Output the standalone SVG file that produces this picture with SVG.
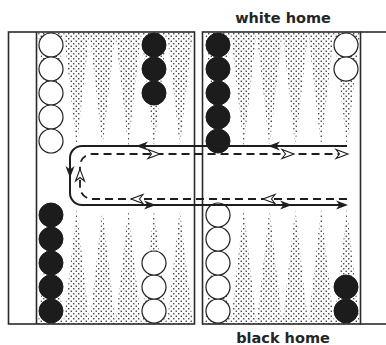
<svg xmlns="http://www.w3.org/2000/svg" xmlns:xlink="http://www.w3.org/1999/xlink" width="386" height="345" viewBox="0 0 386 345">
<style>
.frame{fill:none;stroke:#2a2a2a;stroke-width:1.6}
.pt{fill:url(#dots)}
.w{fill:#fff;stroke:#222;stroke-width:1.2}
.b{fill:#1c1c1c;stroke:#1c1c1c;stroke-width:1}
.solid{fill:none;stroke:#1e1e1e;stroke-width:2}
.dash{fill:none;stroke:#1e1e1e;stroke-width:1.8;stroke-dasharray:8 5}
.lbl{font-family:"DejaVu Sans",sans-serif;font-weight:bold;font-size:14.5px;fill:#252525;text-anchor:middle}
</style>
<defs>
<pattern id="dots" patternUnits="userSpaceOnUse" width="5" height="5">
<rect x="0.6" y="0.6" width="1.3" height="1.3" fill="#222"/>
<rect x="3.1" y="3.1" width="1.3" height="1.3" fill="#222"/>
</pattern>
<path id="ahs" d="M0,0 L-12,-4.5 L-8.5,0 L-12,4.5 Z" fill="#1e1e1e"/>
<path id="aho" d="M0,0 L-12,-4.5 L-8.5,0 L-12,4.5 Z" fill="#fff" stroke="#1e1e1e" stroke-width="1.1" stroke-linejoin="miter"/>
</defs>
<g id="points">
<polygon class="pt" points="38,32 63.8,32 50.9,147"/>
<polygon class="pt" points="63.8,32 89.6,32 76.7,147"/>
<polygon class="pt" points="89.6,32 115.4,32 102.5,147"/>
<polygon class="pt" points="115.4,32 141.2,32 128.3,147"/>
<polygon class="pt" points="141.2,32 167,32 154.1,147"/>
<polygon class="pt" points="167,32 192.8,32 179.9,147"/>
<polygon class="pt" points="205,32 230.8,32 217.9,147"/>
<polygon class="pt" points="230.8,32 256.6,32 243.7,147"/>
<polygon class="pt" points="256.6,32 282.4,32 269.5,147"/>
<polygon class="pt" points="282.4,32 308.2,32 295.3,147"/>
<polygon class="pt" points="308.2,32 334,32 321.1,147"/>
<polygon class="pt" points="334,32 359.8,32 346.9,147"/>
<polygon class="pt" points="38,324 63.8,324 50.9,209"/>
<polygon class="pt" points="63.8,324 89.6,324 76.7,209"/>
<polygon class="pt" points="89.6,324 115.4,324 102.5,209"/>
<polygon class="pt" points="115.4,324 141.2,324 128.3,209"/>
<polygon class="pt" points="141.2,324 167,324 154.1,209"/>
<polygon class="pt" points="167,324 192.8,324 179.9,209"/>
<polygon class="pt" points="205,324 230.8,324 217.9,209"/>
<polygon class="pt" points="230.8,324 256.6,324 243.7,209"/>
<polygon class="pt" points="256.6,324 282.4,324 269.5,209"/>
<polygon class="pt" points="282.4,324 308.2,324 295.3,209"/>
<polygon class="pt" points="308.2,324 334,324 321.1,209"/>
<polygon class="pt" points="334,324 359.8,324 346.9,209"/>
</g>
<g id="board">
<rect class="frame" x="8.5" y="32" width="186" height="292"/>
<line class="frame" x1="36.5" y1="32" x2="36.5" y2="324"/>
<rect class="frame" x="202.5" y="32" width="158" height="292"/>
<line class="frame" x1="360.5" y1="32" x2="386" y2="32"/>
<line class="frame" x1="360.5" y1="324" x2="386" y2="324"/>
</g>
<g id="checkers">
<g id="top-left-white">
<circle class="w" cx="51" cy="45" r="12"/><circle class="w" cx="51" cy="69" r="12"/><circle class="w" cx="51" cy="93" r="12"/><circle class="w" cx="51" cy="117" r="12"/><circle class="w" cx="51" cy="141" r="12"/>
</g>
<g id="top-left-black">
<circle class="b" cx="154" cy="45" r="12"/><circle class="b" cx="154" cy="69" r="12"/><circle class="b" cx="154" cy="93" r="12"/>
</g>
<g id="top-right-black">
<circle class="b" cx="218" cy="45" r="12"/><circle class="b" cx="218" cy="69" r="12"/><circle class="b" cx="218" cy="93" r="12"/><circle class="b" cx="218" cy="117" r="12"/><circle class="b" cx="218" cy="141" r="12"/>
</g>
<g id="top-right-white">
<circle class="w" cx="346" cy="45" r="12"/><circle class="w" cx="346" cy="69" r="12"/>
</g>
<g id="bottom-left-black">
<circle class="b" cx="51" cy="311" r="12"/><circle class="b" cx="51" cy="287" r="12"/><circle class="b" cx="51" cy="263" r="12"/><circle class="b" cx="51" cy="239" r="12"/><circle class="b" cx="51" cy="215" r="12"/>
</g>
<g id="bottom-left-white">
<circle class="w" cx="154" cy="311" r="12"/><circle class="w" cx="154" cy="287" r="12"/><circle class="w" cx="154" cy="263" r="12"/>
</g>
<g id="bottom-right-white">
<circle class="w" cx="218" cy="311" r="12"/><circle class="w" cx="218" cy="287" r="12"/><circle class="w" cx="218" cy="263" r="12"/><circle class="w" cx="218" cy="239" r="12"/><circle class="w" cx="218" cy="215" r="12"/>
</g>
<g id="bottom-right-black">
<circle class="b" cx="346" cy="311" r="12"/><circle class="b" cx="346" cy="287" r="12"/>
</g>
</g>
<g id="connectors">
<path class="solid" d="M347,146 H82 A12,12 0 0 0 70,158 V193 A12,12 0 0 0 82,205 H342"/>
<path class="dash" d="M347,199 H92 A12,12 0 0 1 80,187 V166 A12,12 0 0 1 92,154 H342"/>
<use xlink:href="#ahs" transform="translate(268,146) rotate(180)"/>
<use xlink:href="#ahs" transform="translate(136,146) rotate(180)"/>
<use xlink:href="#ahs" transform="translate(70,178) rotate(90)"/>
<use xlink:href="#ahs" transform="translate(156,205)"/>
<use xlink:href="#ahs" transform="translate(292,205)"/>
<use xlink:href="#ahs" transform="translate(348,205)"/>
<use xlink:href="#aho" transform="translate(160,154)"/>
<use xlink:href="#aho" transform="translate(294,154)"/>
<use xlink:href="#aho" transform="translate(348,154)"/>
<use xlink:href="#aho" transform="translate(131,199) rotate(180)"/>
<use xlink:href="#aho" transform="translate(263,199) rotate(180)"/>
<use xlink:href="#aho" transform="translate(80,169) rotate(-90)"/>
</g>
<g id="labels">
<text class="lbl" x="283" y="23">white home</text>
<text class="lbl" x="283" y="343">black home</text>
</g>
</svg>
